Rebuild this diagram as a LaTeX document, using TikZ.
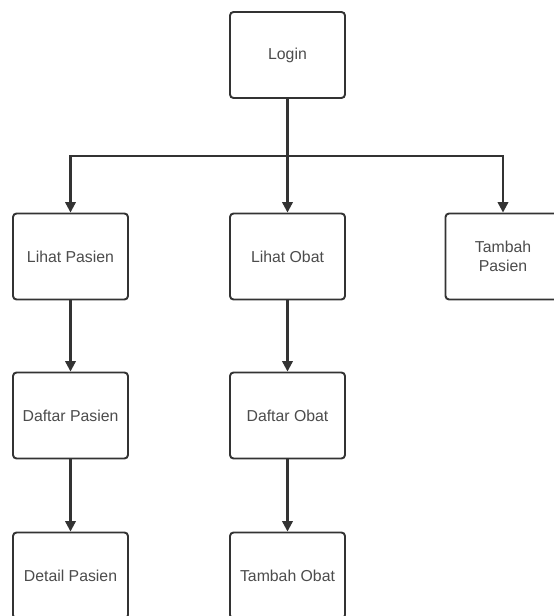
\documentclass[tikz,border=0pt]{standalone}
\usepackage{fontspec}
\setmainfont{Liberation Sans}
\usetikzlibrary{positioning,arrows.meta}

\begin{document}
\begin{tikzpicture}[x=0.02cm,y=-0.02cm]
\tikzstyle{box}=[draw=black!80,line width=1.1pt,rounded corners=2pt,fill=white,minimum width=2.3cm,minimum height=1.72cm,align=center,font=\fontsize{9}{11}\selectfont,text=black!70]
\tikzstyle{link}=[-{Triangle[length=6pt,width=6pt]},draw=black!80,line width=1.3pt]
    \clip (0,0) rectangle (554,616);
    \node[box] (login) at (287.5,55) {Login};
    \node[box] (lihatpasien) at (70.5,256.5) {Lihat Pasien};
    \node[box] (lihatobat) at (287.5,256.5) {Lihat Obat};
    \node[box] (tambahpasien) at (503,256.5) {Tambah\\Pasien};
    \node[box] (daftarpasien) at (70.5,415.5) {Daftar Pasien};
    \node[box] (daftarobat) at (287.5,415.5) {Daftar Obat};
    \node[box] (detailpasien) at (70.5,575.5) {Detail Pasien};
    \node[box] (tambahobat) at (287.5,575.5) {Tambah Obat};
    \coordinate (split) at (287.5,156);
    \draw[link] (login) to (lihatobat);
    \draw[link] (split) -| (lihatpasien);
    \draw[link] (split) -| (tambahpasien);
    \draw[link] (lihatpasien) to (daftarpasien);
    \draw[link] (daftarpasien) to (detailpasien);
    \draw[link] (lihatobat) to (daftarobat);
    \draw[link] (daftarobat) to (tambahobat);
\end{tikzpicture}
\end{document}
